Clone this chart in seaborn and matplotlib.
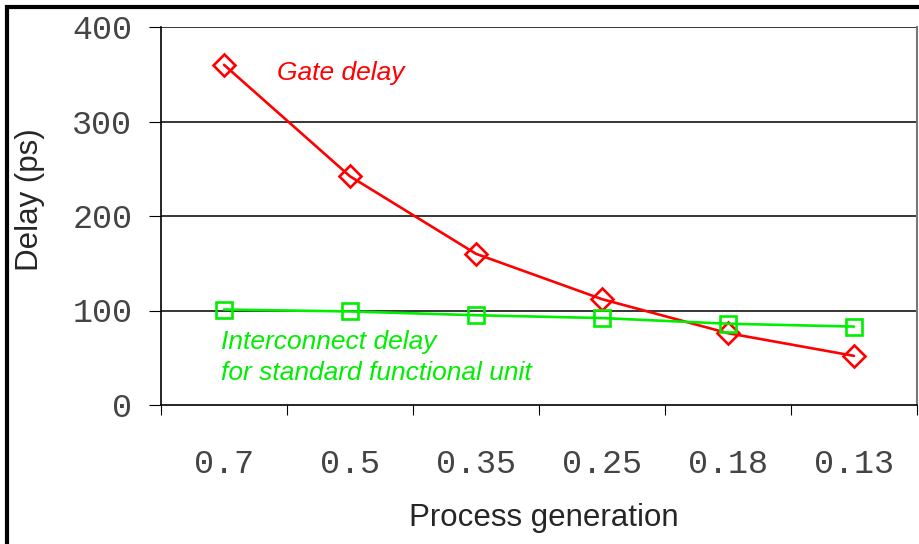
"""Gate delay vs interconnect delay over process generations."""

import matplotlib

matplotlib.use("Agg")
import matplotlib.pyplot as plt
import numpy as np
import pandas as pd
import seaborn as sns
from matplotlib.patches import Rectangle

generations = ["0.7", "0.5", "0.35", "0.25", "0.18", "0.13"]
gate_delay = [360, 242, 160, 112, 76, 52]
interconnect_delay = [101, 99, 95, 92, 86, 83]
y_ticks = [0, 100, 200, 300, 400]

RED = "#ff0000"
GREEN = "#00ee00"
MONO = ["Liberation Mono", "DejaVu Sans Mono"]

df = pd.DataFrame({"gen": generations, "gate": gate_delay, "wire": interconnect_delay})

sns.set_style("white")
plt.rcParams["font.family"] = ["Liberation Sans", "DejaVu Sans"]

fig = plt.figure(figsize=(9.2, 5.44), dpi=100)
ax = fig.add_axes([161 / 920, 139 / 544, 756 / 920, 378 / 544])

sns.lineplot(data=df, x="gen", y="gate", ax=ax, color=RED, lw=1.9, sort=False,
             marker="D", markersize=11, markerfacecolor="none",
             markeredgecolor=RED, markeredgewidth=1.9)
sns.lineplot(data=df, x="gen", y="wire", ax=ax, color=GREEN, lw=1.9, sort=False,
             marker="s", markersize=12, markerfacecolor="none",
             markeredgecolor=GREEN, markeredgewidth=1.9)

n = len(generations)
ax.set_xlim(-0.5, n - 0.5)
ax.set_ylim(0, 400)

# category boundaries get the tick marks, centres get the labels
ax.set_xticks(np.arange(n + 1) - 0.5)
ax.set_xticklabels([])
ax.set_xticks(np.arange(n), minor=True)
ax.set_xticklabels(generations, minor=True, family=MONO, fontsize=24, color="#444444")
ax.tick_params(axis="x", which="major", bottom=True, direction="out",
               length=7.2, width=0.8, color="black")
ax.tick_params(axis="x", which="minor", bottom=True, length=0, pad=32)

ax.set_yticks(y_ticks)
ax.set_yticklabels([str(v) for v in y_ticks], family=MONO, fontsize=24, color="#444444")
ax.tick_params(axis="y", left=True, direction="out", length=8.6, width=0.8,
               color="black", pad=12)

for v in y_ticks[1:]:
    ax.axhline(v, color="black", lw=1.1, zorder=0)

for side in ["left", "bottom"]:
    ax.spines[side].set_color("black")
    ax.spines[side].set_linewidth(1.2)
ax.spines["top"].set_visible(False)
ax.spines["right"].set_color("#777777")
ax.spines["right"].set_linewidth(1.5)

ax.set_xlabel("Process generation", fontsize=22.5)
ax.xaxis.set_label_coords((544 - 161) / 756, (405 - 518) / 378)
ax.xaxis.label.set_va("center")
ax.set_ylabel("Delay (ps)", fontsize=22.5)
ax.yaxis.set_label_coords((30 - 161) / 756, (405 - 200) / 378)
ax.yaxis.label.set_va("center")

ax.text(0.42, 351, "Gate delay", color=RED, fontsize=19, style="italic", va="center")
ax.text(-0.5 + 60 / 126, 50, "Interconnect delay\nfor standard functional unit",
        color=GREEN, fontsize=19, style="italic", va="center", linespacing=1.35)

# outer frame of the figure, cut off at right and bottom like the original
fig.patches.append(Rectangle((7 / 920, -0.1), 1.2, 1.1 - 7 / 544,
                             transform=fig.transFigure, fill=False,
                             edgecolor="black", lw=3))

fig.savefig("out.png", dpi=100)
